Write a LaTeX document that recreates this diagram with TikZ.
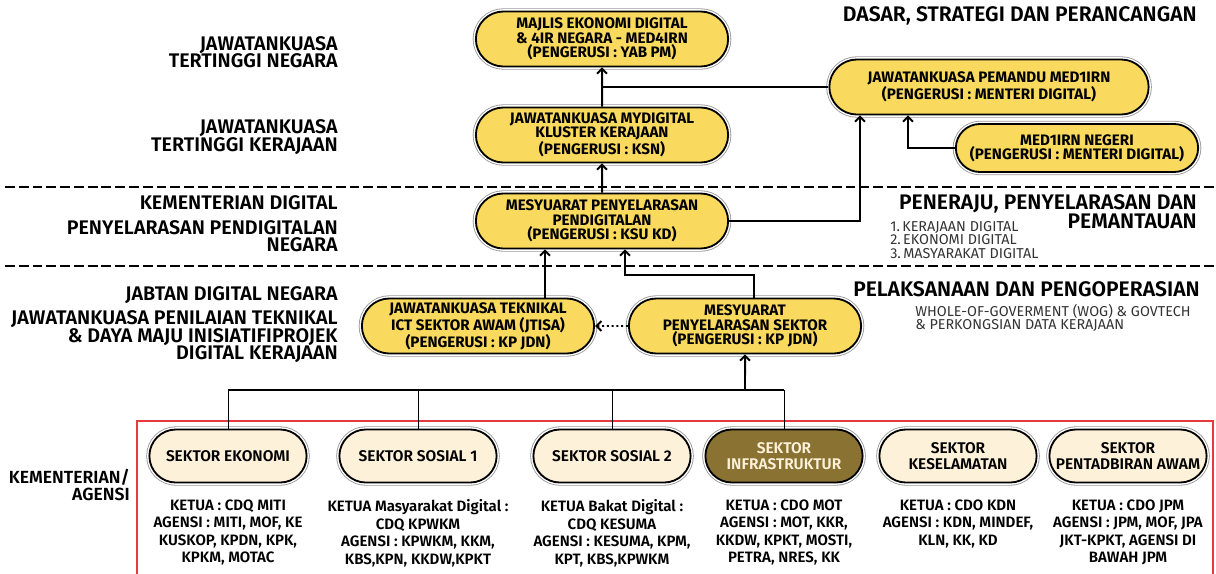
\documentclass[tikz,border=0pt]{standalone}
\usepackage{fontspec}
\setmainfont{Fira Sans}
\newfontfamily\semifont{Fira Sans SemiBold}
\newfontfamily\lightfont{Fira Sans Light}
\usetikzlibrary{positioning,shapes.misc,arrows.meta}

\definecolor{boxyellow}{HTML}{FADA5E}
\definecolor{boxcream}{HTML}{FDF1DA}
\definecolor{boxbrown}{HTML}{8A7232}
\definecolor{framered}{HTML}{E63A3F}
\definecolor{infogray}{HTML}{333333}

\begin{document}
\begin{tikzpicture}[
        x=0.025cm, y=-0.025cm,
        pill/.style={rounded rectangle, draw=black, line width=1.3pt, inner sep=1pt, align=center,
            preaction={draw=gray!80, line width=4.5pt},
            preaction={draw=white, line width=3.3pt}}, % black rim with a thin grey outline
        yellowbox/.style={pill, fill=boxyellow, minimum height=1.375cm, font=\bfseries\fontsize{10.8}{10.2}\selectfont},
        sectorbox/.style={pill, fill=boxcream, minimum width=4cm, minimum height=1.325cm, font=\semifont\fontsize{11}{11.5}\selectfont},
        darkbox/.style={sectorbox, fill=boxbrown, text=boxcream},
        leftlabel/.style={anchor=east, align=right, inner sep=0pt, font=\semifont\fontsize{14}{12.5}\selectfont},
        rightlabel/.style={anchor=east, align=right, inner sep=0pt, font=\semifont\fontsize{15}{13.5}\selectfont},
        info/.style={anchor=west, align=left, inner sep=0pt, text=infogray, font=\fontsize{10.2}{9.4}\selectfont},
        desc/.style={align=center, inner sep=0pt, font=\semifont\fontsize{10.7}{12.4}\selectfont},
        divider/.style={line width=1.5pt, dash pattern=on 7pt off 2.8pt},
        link/.style={line width=1.4pt},
        flow/.style={link, -{Straight Barb[length=3.5pt,width=7pt]}}
    ]
    \useasboundingbox (0,0) rectangle (1216,573);

    % level dividers
    \draw[divider] (5,187) -- (1216,187);
    \draw[divider] (5,266) -- (1216,266);

    % left-hand level names
    \node[leftlabel] (lvlnegara) at (338,52) {JAWATANKUASA\\TERTINGGI NEGARA};
    \node[leftlabel] (lvlkerajaan) at (338,137) {JAWATANKUASA\\TERTINGGI KERAJAAN};
    \node[leftlabel] (lvlkd) at (338,203) {KEMENTERIAN DIGITAL};
    \node[leftlabel] (lvlpenyelarasan) at (338,236) {PENYELARASAN PENDIGITALAN\\NEGARA};
    \node[leftlabel] (lvljdn) at (338,295) {JABTAN DIGITAL NEGARA};
    \node[leftlabel] (lvlpenilaian) at (338,337) {JAWATANKUASA PENILAIAN TEKNIKAL\\\& DAYA MAJU INISIATIFIPROJEK\\DIGITAL KERAJAAN};
    \node[leftlabel, font=\semifont\fontsize{12.5}{12}\selectfont] (lvlagensi) at (130,485) {KEMENTERIAN/\\AGENSI};

    % right-hand roles
    \node[rightlabel] (roledasar) at (1197,16) {DASAR, STRATEGI DAN PERANCANGAN};
    \node[rightlabel] (rolepantau) at (1197,212) {PENERAJU, PENYELARASAN DAN\\PEMANTAUAN};
    \node[info] (listpantau) at (890,240) {1.\,KERAJAAN DIGITAL\\2.\,EKONOMI DIGITAL\\3.\,MASYARAKAT DIGITAL};
    \node[rightlabel] (rolelaksana) at (1200,289) {PELAKSANAAN DAN PENGOPERASIAN};
    \node[info] (listlaksana) at (915,318) {WHOLE-OF-GOVERMENT (WOG) \& GOVTECH\\\& PERKONGSIAN DATA KERAJAAN};

    % committees
    \node[yellowbox, minimum width=6.375cm] (majlis) at (602,39) {MAJLIS EKONOMI DIGITAL\\\& 4IR NEGARA - MED4IRN\\(PENGERUSI : YAB PM)};
    \node[yellowbox, minimum width=6.375cm] (mydigital) at (602,135) {JAWATANKUASA MYDIGITAL\\KLUSTER KERAJAAN\\(PENGERUSI : KSN)};
    \node[yellowbox, minimum width=8.05cm] (pemandu) at (989,87) {JAWATANKUASA PEMANDU MED1IRN\\(PENGERUSI : MENTERI DIGITAL)};
    \node[yellowbox, minimum width=6.125cm, minimum height=1.2cm] (negeri) at (1077,148) {MED1IRN NEGERI\\(PENGERUSI : MENTERI DIGITAL)};
    \node[yellowbox, minimum width=6.375cm] (mesy) at (602,221) {MESYUARAT PENYELARASAN\\PENDIGITALAN\\(PENGERUSI : KSU KD)};
    \node[yellowbox, minimum width=5.875cm] (jtisa) at (478,326) {JAWATANKUASA TEKNIKAL\\ICT SEKTOR AWAM (JTISA)\\(PENGERUSI : KP JDN)};
    \node[yellowbox, minimum width=5.875cm] (sektor) at (745,326) {MESYUARAT\\PENYELARASAN SEKTOR\\(PENGERUSI : KP JDN)};

    % sectors
    \node[sectorbox] (ekonomi) at (228,456) {SEKTOR EKONOMI};
    \node[sectorbox] (sosial1) at (418,456) {SEKTOR SOSIAL 1};
    \node[sectorbox] (sosial2) at (612,456) {SEKTOR SOSIAL 2};
    \node[darkbox] (infra) at (784,456) {SEKTOR\\INFRASTRUKTUR};
    \node[sectorbox] (kesel) at (958,456) {SEKTOR\\KESELAMATAN};
    \node[sectorbox] (pentad) at (1128,456) {SEKTOR\\PENTADBIRAN AWAM};

    \node[desc, below=0.4cm of ekonomi, anchor=north] (ekonomidesc) {KETUA : CDQ MITI\\AGENSI : MITI, MOF, KE\\KUSKOP, KPDN, KPK,\\KPKM, MOTAC};
    \node[desc, below=0.4cm of sosial1, anchor=north] (sosial1desc) {KETUA Masyarakat Digital :\\CDQ KPWKM\\AGENSI : KPWKM, KKM,\\KBS,KPN, KKDW,KPKT};
    \node[desc, below=0.4cm of sosial2, anchor=north] (sosial2desc) {KETUA Bakat Digital :\\CDQ KESUMA\\AGENSI : KESUMA, KPM,\\KPT, KBS,KPWKM};
    \node[desc, below=0.4cm of infra, anchor=north] (infradesc) {KETUA : CDO MOT\\AGENSI : MOT, KKR,\\KKDW, KPKT, MOSTI,\\PETRA, NRES, KK};
    \node[desc, below=0.4cm of kesel, anchor=north] (keseldesc) {KETUA : CDO KDN\\AGENSI : KDN, MINDEF,\\KLN, KK, KD};
    \node[desc, below=0.4cm of pentad, anchor=north] (pentaddesc) {KETUA : CDO JPM\\AGENSI : JPM, MOF, JPA\\JKT-KPKT, AGENSI DI\\BAWAH JPM};

    \draw[framered, line width=1.2pt] (137,576) |- (1213,421) -- (1213,576);

    % connectors
    \draw[flow] (mydigital) -- (majlis);
    \draw[link] (pemandu.west) -- (pemandu.west -| majlis.south);
    \draw[flow] (negeri.west) -| ([xshift=-2.025cm]pemandu.south);
    \draw[flow] (mesy) -- (mydigital);
    \draw[flow] (mesy.east) -| ([xshift=-3.225cm]pemandu.south);
    \draw[flow] ([xshift=1.675cm]jtisa.north) -- ([xshift=1.675cm]jtisa.north |- mesy.south);
    \draw[flow] ([xshift=0.225cm]sektor.north) -- ++(0,0.575cm) -| ([xshift=0.575cm]mesy.south);
    \draw[flow, dotted] (sektor) -- (jtisa);

    \coordinate (bus) at (745,390);
    \draw[flow] (bus) -- (sektor);
    \draw[link] (ekonomi.north |- bus) -- (infra.north |- bus);
    \foreach \s in {ekonomi,sosial1,sosial2,infra}
        \draw[line width=0.7pt] (\s.north |- bus) -- (\s.north);
\end{tikzpicture}
\end{document}
